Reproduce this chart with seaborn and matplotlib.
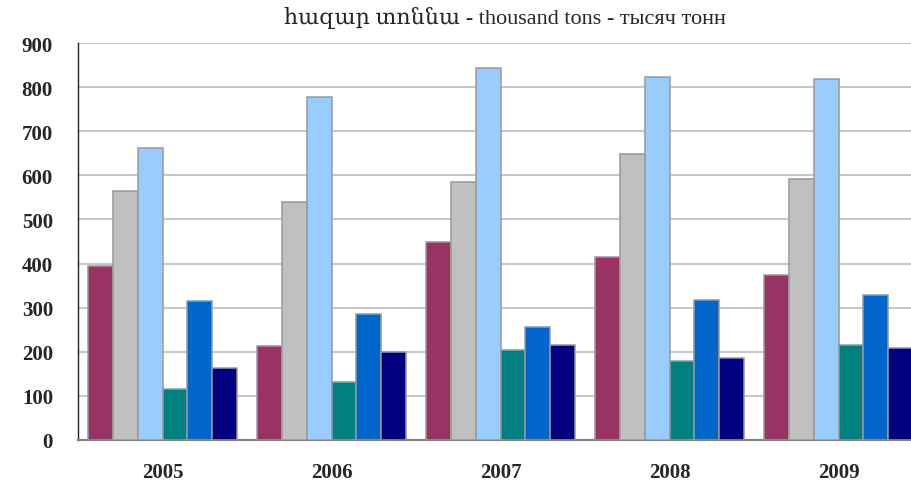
import pandas as pd
import matplotlib
matplotlib.use("Agg")
import matplotlib.pyplot as plt
from matplotlib.ticker import FixedLocator
import seaborn as sns

# values (thousand tons)
years = ["2005", "2006", "2007", "2008", "2009"]
series = ["s1", "s2", "s3", "s4", "s5", "s6"]
s1 = [394, 212, 450, 414, 374]
s2 = [564, 539, 584, 649, 592]
s3 = [661, 778, 844, 822, 819]
s4 = [116, 132, 204, 180, 216]
s5 = [314, 286, 257, 318, 329]
s6 = [164, 200, 216, 185, 208]
colors = ["#993366", "#C0C0C0", "#99CCFF", "#008080", "#0066CC", "#000080"]
yticks = [0, 100, 200, 300, 400, 500, 600, 700, 800, 900]
title = "հազար տոննա - thousand tons - тысяч тонн"

rows = []
for name, vals in zip(series, [s1, s2, s3, s4, s5, s6]):
    for y, v in zip(years, vals):
        rows.append({"year": y, "series": name, "value": v})
df = pd.DataFrame(rows)

sns.set_style("white")
serif = ["Liberation Serif", "DejaVu Serif"]

fig = plt.figure(figsize=(9.11, 4.89), dpi=100)
ax = fig.add_axes([78 / 911, 48 / 489, 833 / 911, 397 / 489])

sns.barplot(data=df, x="year", y="value", hue="series", order=years,
            hue_order=series, palette=colors, width=0.876, saturation=1,
            edgecolor="#999999", linewidth=1.1, legend=False, ax=ax, zorder=3)

ax.set_ylim(0, 900)
ax.set_xlim(-0.5, -0.5 + 833 / 169)
ax.set_yticks(yticks)
ax.yaxis.grid(True, color="#c8c8c8", linewidth=1.5, zorder=0)
ax.set_axisbelow(True)
ax.set_xlabel("")
ax.set_ylabel("")

for s in ["top", "right"]:
    ax.spines[s].set_visible(False)
ax.spines["left"].set_color("#222222")
ax.spines["left"].set_linewidth(1.0)
ax.spines["bottom"].set_color("#808080")
ax.spines["bottom"].set_linewidth(1.5)

ax.tick_params(axis="y", direction="out", length=6, width=1, color="#222222",
               pad=12)
ax.tick_params(axis="x", which="major", length=0, pad=16)
ax.xaxis.set_minor_locator(FixedLocator([-0.5, 0.5, 1.5, 2.5, 3.5]))
ax.tick_params(axis="x", which="minor", direction="out", length=7, width=1,
               color="#333333")

for lab in ax.get_yticklabels() + ax.get_xticklabels():
    lab.set_family(serif)
    lab.set_fontweight("bold")
    lab.set_fontsize(15)

fig.text(505 / 911, 1 - 18 / 489, title, family=serif, fontsize=16,
         ha="center", va="center")

fig.savefig("out.png", dpi=100)
